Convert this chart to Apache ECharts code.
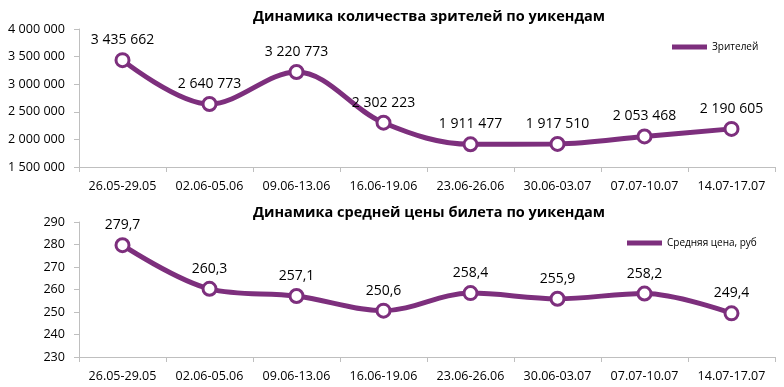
<!DOCTYPE html>
<html><head><meta charset="utf-8">
<script src="https://cdn.jsdelivr.net/npm/echarts@6/dist/echarts.min.js"></script>
<style>html,body{margin:0;padding:0;background:#fff}#c{width:784px;height:387px}</style>
</head><body><div id="c"></div>
<script>
const categories = ['26.05-29.05','02.06-05.06','09.06-13.06','16.06-19.06','23.06-26.06','30.06-03.07','07.07-10.07','14.07-17.07'];
const viewers = [3435662,2640773,3220773,2302223,1911477,1917510,2053468,2190605];
const avgPrice = [279.7,260.3,257.1,250.6,258.4,255.9,258.2,249.4];
const titleTop = 'Динамика количества зрителей по уикендам';
const titleBottom = 'Динамика средней цены билета по уикендам';
const nameTop = 'Зрителей';
const nameBottom = 'Средняя цена, руб';

const purple = '#7D2F7D';
const font = 'Open Sans';
const fmtSpace = v => String(Math.round(v)).replace(/\B(?=(\d{3})+(?!\d))/g, ' ');
const fmtComma = v => v.toFixed(1).replace('.', ',');

const chart = echarts.init(document.getElementById('c'));
const axisX = (gi) => ({
  type:'category', gridIndex:gi, data:categories, boundaryGap:true,
  axisLine:{lineStyle:{color:'#bfbfbf'}},
  axisTick:{show:true,interval:0,lineStyle:{color:'#bfbfbf'},length:5},
  axisLabel:{interval:0,hideOverlap:false,color:'#000',fontFamily:font,fontSize:12.5,margin:13}
});
const axisY = (gi,min,max,interval,fmt) => ({
  type:'value', gridIndex:gi, min, max, interval,
  splitLine:{show:false},
  axisLine:{show:true,lineStyle:{color:'#bfbfbf'}},
  axisTick:{show:true,lineStyle:{color:'#bfbfbf'},length:5},
  axisLabel:{color:'#000',fontFamily:font,fontSize:12.6,margin:14,formatter:fmt}
});
const series = (name,data,gi,fmt) => ({
  name, type:'line', xAxisIndex:gi, yAxisIndex:gi, data,
  smooth:0.35, symbol:'circle', symbolSize:13,
  lineStyle:{color:purple,width:5},
  itemStyle:{color:'#fff',borderColor:purple,borderWidth:3},
  label:{show:true,position:'top',distance:5,color:'#000',fontFamily:font,fontSize:14,formatter:p=>fmt(p.value)}
});
const legendItem = name => ({name,icon:'rect',itemStyle:{color:purple,borderWidth:0}});
chart.setOption({
  animation:false,
  title:[
    {text:titleTop,left:424,top:4,textAlign:'center',textStyle:{fontFamily:font,fontSize:14.5,fontWeight:'bold',color:'#000'}},
    {text:titleBottom,left:424,top:200,textAlign:'center',textStyle:{fontFamily:font,fontSize:14.5,fontWeight:'bold',color:'#000'}}
  ],
  legend:[
    {data:[legendItem(nameTop)],left:667,top:37,itemWidth:35,itemHeight:5,itemGap:10,
      textStyle:{fontFamily:font,fontSize:10,color:'#000'}},
    {data:[legendItem(nameBottom)],left:622,top:233,itemWidth:35,itemHeight:5,itemGap:10,
      textStyle:{fontFamily:font,fontSize:10,color:'#000'}}
  ],
  color:[purple,purple],
  grid:[
    {left:79,top:29,right:9,height:138},
    {left:79,top:222,right:9,height:135}
  ],
  xAxis:[axisX(0),axisX(1)],
  yAxis:[axisY(0,1500000,4000000,500000,fmtSpace),axisY(1,230,290,10,v=>v)],
  series:[series(nameTop,viewers,0,fmtSpace),series(nameBottom,avgPrice,1,fmtComma)]
});
</script></body></html>
